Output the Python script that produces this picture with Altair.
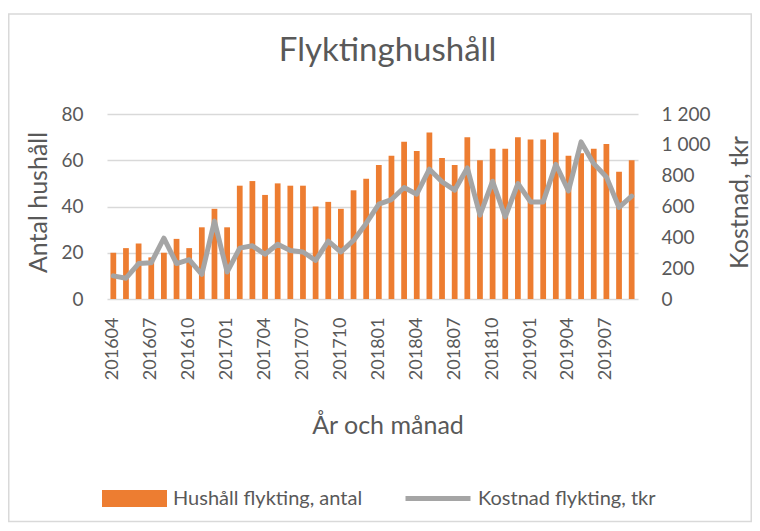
import altair as alt
import pandas as pd

months = [
    "201604", "201605", "201606", "201607", "201608", "201609", "201610", "201611", "201612",
    "201701", "201702", "201703", "201704", "201705", "201706", "201707", "201708", "201709",
    "201710", "201711", "201712",
    "201801", "201802", "201803", "201804", "201805", "201806", "201807", "201808", "201809",
    "201810", "201811", "201812",
    "201901", "201902", "201903", "201904", "201905", "201906", "201907", "201908", "201909",
]
households = [
    20, 22, 24, 18, 20, 26, 22, 31, 39,
    31, 49, 51, 45, 50, 49, 49, 40, 42, 39, 47, 52,
    58, 62, 68, 64, 72, 61, 58, 70, 60, 65, 65, 70,
    69, 69, 72, 62, 63, 65, 67, 55, 60,
]
costs = [
    150, 135, 230, 235, 395, 230, 255, 160, 505,
    175, 330, 345, 290, 355, 315, 305, 250, 375, 305, 380, 490,
    615, 645, 723, 680, 842, 760, 706, 850, 544, 764, 533, 749,
    630, 630, 874, 701, 1019, 878, 792, 594, 667,
]
tick_months = ["201604", "201607", "201610", "201701", "201704", "201707", "201710",
               "201801", "201804", "201807", "201810", "201901", "201904", "201907"]
left_ticks = [0, 20, 40, 60, 80]
right_ticks = [0, 200, 400, 600, 800, 1000, 1200]
bar_series = "Hushåll flykting, antal"
line_series = "Kostnad flykting, tkr"

ORANGE = "#ED7D31"
GRAY = "#A5A5A5"
TXT = "#595959"
FONT = "Lato"

df = pd.DataFrame({"month": months, "hh": households, "cost": costs,
                   "s1": bar_series, "s2": line_series})

base = alt.Chart(df)

x_enc = alt.X(
    "month:O", sort=months,
    scale=alt.Scale(paddingInner=0.545, paddingOuter=0.2725),
    axis=alt.Axis(values=tick_months, labelAngle=-90, labelPadding=18, labelFont=FONT,
                  labelFontSize=18, labelColor=TXT, domain=False, ticks=False, grid=False,
                  labelOverlap=False,
                  title="År och månad", titleFont=FONT, titleFontSize=25, titleFontWeight="normal",
                  titleColor=TXT, titleX=280.5, titleY=134, titleAlign="center",
                  titleBaseline="alphabetic"),
)

bars = base.mark_bar().encode(
    x=x_enc,
    y=alt.Y("hh:Q", scale=alt.Scale(domain=[0, 80]),
            axis=alt.Axis(values=left_ticks, grid=True, gridColor="#D9D9D9", gridWidth=1.3,
                          domain=False, ticks=False, tickSize=0, labelPadding=24,
                          labelFont=FONT, labelFontSize=19, labelColor=TXT,
                          title="Antal hushåll", titleFont=FONT, titleFontSize=25,
                          titleFontWeight="normal", titleColor=TXT, titleAngle=-90,
                          titleX=-68.5, titleY=88, titleAlign="center",
                          titleBaseline="middle")),
    fill=alt.Fill("s1:N", scale=alt.Scale(range=[ORANGE]),
                  legend=alt.Legend(title=None, orient="none", legendX=-5, legendY=352,
                                    symbolType="M-1,-0.26H1V0.26H-1Z", symbolSize=4225,
                                    symbolStrokeWidth=0, labelFont=FONT, labelFontSize=20,
                                    labelColor=TXT, labelOffset=6, labelLimit=400, padding=0,
                                    direction="horizontal")),
)

line = base.mark_line(strokeWidth=5, strokeJoin="round", strokeCap="round").encode(
    x=x_enc,
    y=alt.Y("cost:Q", scale=alt.Scale(domain=[0, 1200]),
            axis=alt.Axis(orient="right", values=right_ticks, grid=False, domain=False,
                          ticks=False, tickSize=0, labelPadding=23,
                          labelExpr="replace(format(datum.value, ','), ',', ' ')",
                          labelFont=FONT, labelFontSize=19, labelColor=TXT,
                          title="Kostnad, tkr", titleFont=FONT, titleFontSize=25,
                          titleFontWeight="normal", titleColor=TXT, titleAngle=-90,
                          titleX=109, titleY=88, titleAlign="center",
                          titleBaseline="alphabetic")),
    stroke=alt.Stroke("s2:N", scale=alt.Scale(range=[GRAY]),
                      legend=alt.Legend(title=None, orient="none", legendX=296, legendY=349.5,
                                        symbolType="M-1,0H1", symbolSize=4225,
                                        symbolStrokeWidth=5, labelFont=FONT, labelFontSize=20,
                                        labelColor=TXT, labelOffset=5, labelLimit=400,
                                        padding=0, direction="horizontal")),
)

frame = alt.Chart(alt.Data(values=[{}])).mark_rect(
    fill="transparent", stroke="#D9D9D9", strokeWidth=1.5
).encode(x=alt.value(-98.25), x2=alt.value(644.25), y=alt.value(-100), y2=alt.value(407.5))

chart = alt.layer(frame, bars, line).resolve_scale(y="independent").properties(
    width=531, height=185,
    padding={"left": 99, "top": 106, "right": 114, "bottom": 224},
    autosize="none",
    title=alt.TitleParams("Flyktinghushåll", font=FONT, fontSize=33, fontWeight="normal",
                          color=TXT, anchor="middle", frame="group", dx=15, offset=-80.5,
                          baseline="alphabetic"),
).configure_view(stroke=None)

chart.save("out.html", embed_options={"renderer": "svg", "actions": False})
